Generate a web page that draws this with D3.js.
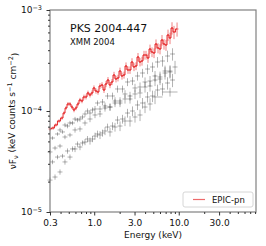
<!DOCTYPE html>
<html>
<head>
<meta charset="utf-8">
<script src="https://cdn.jsdelivr.net/npm/d3@7"></script>
<style>
body { margin: 0; background: #fff; }
text { font-family: "DejaVu Sans", sans-serif; fill: #111; }
</style>
</head>
<body>
<script>
// EPIC-pn spectrum (energy in keV, nuFnu)
var redE = [0.300,0.326,0.352,0.384,0.416,0.440,0.464,0.490,0.517,0.546,0.577,0.609,0.643,0.679,0.717,0.757,0.800,0.844,0.892,0.942,
  0.994,1.050,1.109,1.171,1.237,1.306,1.379,1.456,1.538,1.624,1.715,1.811,1.912,2.019,2.132,2.252,2.378,2.511,2.652,2.800,
  2.957,3.123,3.297,3.482,3.677,3.883,4.100,4.330,4.572,4.828,5.099,5.384,5.686,6.004,6.340,6.695,7.070,7.466,7.884,8.325,
  8.791,9.55];
var redF = [6.64e-5,6.79e-5,7.27e-5,7.96e-5,8.52e-5,9.55e-5,1.071e-4,1.173e-4,1.173e-4,1.095e-4,
  1.023e-4,1.071e-4,1.173e-4,1.285e-4,1.256e-4,1.376e-4,1.376e-4,1.508e-4,1.440e-4,1.508e-4,
  1.690e-4,1.578e-4,1.542e-4,1.768e-4,1.809e-4,1.614e-4,1.851e-4,2.027e-4,1.809e-4,1.937e-4,
  2.272e-4,2.074e-4,2.122e-4,2.489e-4,2.221e-4,2.272e-4,2.789e-4,2.547e-4,2.547e-4,3.055e-4,
  2.727e-4,2.789e-4,3.426e-4,3.055e-4,3.126e-4,3.584e-4,3.584e-4,3.348e-4,4.111e-4,3.838e-4,
  3.752e-4,4.605e-4,4.206e-4,4.111e-4,5.047e-4,4.605e-4,4.501e-4,5.655e-4,5.281e-4,6.636e-4,
  6.056e-4,6.484e-4];
var redErr = [0.04,0.04,0.04,0.04,0.04,0.04,0.04,0.045,0.045,0.045,0.05,0.05,0.05,0.05,0.05,0.055,0.055,0.055,0.055,0.06,
  0.06,0.06,0.06,0.065,0.065,0.065,0.07,0.07,0.07,0.07,0.075,0.075,0.075,0.08,0.08,0.08,0.085,0.085,0.085,0.09,
  0.09,0.09,0.095,0.095,0.10,0.10,0.10,0.105,0.105,0.11,0.11,0.11,0.115,0.115,0.12,0.12,0.125,0.13,0.13,0.14,
  0.15,0.16];

// other observations (grey)
var gridA = [0.300,0.344,0.394,0.451,0.517,0.593,0.679,0.778,0.892,1.022,1.171,1.342,1.538,1.762,2.020,2.314,2.652,3.039,3.483,3.991,4.573,5.241,6.005,6.882,7.886,9.037];
var gridB = [0.321,0.368,0.422,0.483,0.554,0.635,0.727,0.833,0.955,1.094,1.254,1.437,1.646,1.886,2.162,2.477,2.839,3.253,3.729,4.272,4.896,5.611,6.428,7.367,8.442];

var g1F = [5.40e-5,5.92e-5,6.20e-5,7.10e-5,7.61e-5,8.14e-5,8.72e-5,1.00e-4,1.023e-4,1.200e-4,1.228e-4,1.408e-4,1.408e-4,1.652e-4,1.652e-4,1.937e-4,1.982e-4,2.221e-4,2.378e-4,2.604e-4,2.727e-4,3.055e-4,3.126e-4,3.503e-4,3.667e-4];
var g1Err = [0.04,0.04,0.04,0.05,0.05,0.05,0.05,0.06,0.06,0.06,0.07,0.07,0.08,0.08,0.08,0.09,0.09,0.10,0.10,0.11,0.11,0.12,0.12,0.13,0.14];

var g2F = [3.93e-5,4.30e-5,4.50e-5,5.53e-5,5.79e-5,6.49e-5,6.64e-5,7.61e-5,8.33e-5,9.13e-5,9.34e-5,1.071e-4,1.095e-4,1.256e-4,1.256e-4,1.474e-4,1.408e-4,1.690e-4,1.728e-4,1.937e-4,1.982e-4,2.221e-4,2.171e-4,2.489e-4,2.489e-4,2.727e-4];
var g2Err = [0.05,0.05,0.05,0.05,0.05,0.06,0.06,0.06,0.07,0.07,0.07,0.08,0.08,0.09,0.09,0.09,0.10,0.10,0.11,0.11,0.12,0.12,0.13,0.13,0.14,0.15];

var g3F = [3.13e-5,3.50e-5,3.58e-5,4.02e-5,4.21e-5,4.71e-5,4.82e-5,5.28e-5,5.28e-5,5.92e-5,6.06e-5,6.94e-5,7.10e-5,8.14e-5,8.33e-5,9.55e-5,1.00e-4,1.147e-4,1.200e-4,1.376e-4,1.408e-4,1.614e-4,1.652e-4,1.893e-4,2.027e-4];
var g3Err = [0.05,0.05,0.05,0.06,0.06,0.06,0.06,0.07,0.07,0.08,0.08,0.08,0.09,0.09,0.10,0.10,0.11,0.11,0.12,0.12,0.13,0.13,0.14,0.14,0.15];

var g4E = [0.300,0.344,0.394,0.451,0.517,0.593,0.679,0.778,0.892,1.022,1.171,1.342,1.538,1.762,2.020,2.314,2.652,3.039,3.483,3.991,4.573,5.241,7.886];
var g4F = [2.07e-5,2.22e-5,2.49e-5,3.13e-5,3.50e-5,4.21e-5,4.40e-5,4.93e-5,5.05e-5,5.65e-5,5.79e-5,6.34e-5,6.20e-5,6.94e-5,7.10e-5,7.96e-5,7.96e-5,8.72e-5,9.13e-5,1.095e-4,1.173e-4,1.376e-4,1.542e-4];
var g4Err = [0.06,0.06,0.06,0.06,0.06,0.07,0.07,0.07,0.08,0.08,0.09,0.09,0.10,0.10,0.11,0.11,0.12,0.12,0.13,0.13,0.14,0.15,0.10];

var g5E = [0.394,0.451,0.517,0.593,0.679,0.778,0.892,1.022,1.171,1.342,1.538,1.762,2.020,2.314,2.652,3.039,3.483,3.991,4.573,5.241,6.005,6.882,7.886];
var g5F = [6.49e-5,7.27e-5,7.61e-5,8.33e-5,8.33e-5,9.34e-5,9.55e-5,1.047e-4,1.047e-4,1.121e-4,1.095e-4,1.200e-4,1.200e-4,1.315e-4,1.315e-4,1.474e-4,1.508e-4,1.728e-4,1.768e-4,2.027e-4,2.074e-4,2.378e-4,2.433e-4];
var g5Err = [0.05,0.05,0.05,0.05,0.06,0.06,0.06,0.07,0.07,0.08,0.08,0.09,0.09,0.10,0.10,0.11,0.11,0.12,0.12,0.13,0.13,0.14,0.14];

var xTicks = [0.3, 1, 3, 10, 30];
var yTicks = [1e-5, 1e-4, 1e-3];
var yExp = ["\u22125", "\u22124", "\u22123"];

var w = 266, h = 246;

var svg = d3.select("body").append("svg")
  .attr("width", w)
  .attr("height", h);

var x = d3.scaleLog().domain([0.3, 82]).range([50, 256]);
var y = d3.scaleLog().domain([1e-5, 1e-3]).range([212, 10]);

var plot = svg.append("g");

// crosses: horizontal bin bar + vertical error bar
function crossPath(E, F, err) {
  var n = E.length, d = "";
  for (var i = 0; i < n; i++) {
    var lo = i > 0 ? Math.sqrt(E[i-1] * E[i]) : null;
    var hi = i < n - 1 ? Math.sqrt(E[i] * E[i+1]) : null;
    if (lo === null) lo = E[i] * E[i] / hi;
    if (hi === null) hi = E[i] * E[i] / lo;
    d += "M" + x(lo) + "," + y(F[i]) + "H" + x(hi);
    d += "M" + x(E[i]) + "," + y(F[i] * (1 + err[i])) + "V" + y(F[i] * (1 - err[i]));
  }
  return d;
}

var greys = [
  [gridB, g1F, g1Err],
  [gridA, g2F, g2Err],
  [gridB, g3F, g3Err],
  [g4E, g4F, g4Err],
  [g5E, g5F, g5Err]
];

plot.selectAll("path.grey")
  .data(greys)
  .enter()
  .append("path")
  .attr("class", "grey")
  .attr("d", function(d) { return crossPath(d[0], d[1], d[2]); })
  .attr("fill", "none")
  .attr("stroke", "#000")
  .attr("stroke-opacity", 0.3)
  .attr("stroke-width", 1);

// red spectrum
plot.append("path")
  .attr("d", crossPath(redE, redF, redErr))
  .attr("fill", "none")
  .attr("stroke", "#e31a1c")
  .attr("stroke-opacity", 0.55)
  .attr("stroke-width", 1);

var step = d3.line()
  .x(function(d, i) { return x(redE[i]); })
  .y(function(d) { return y(d); })
  .curve(d3.curveStep);

plot.append("path")
  .attr("d", step(redF))
  .attr("fill", "none")
  .attr("stroke", "#e31a1c")
  .attr("stroke-opacity", 0.9)
  .attr("stroke-width", 1);

// frame
svg.append("rect")
  .attr("x", 50).attr("y", 10)
  .attr("width", 206).attr("height", 202)
  .attr("fill", "none")
  .attr("stroke", "#808080")
  .attr("stroke-width", 1.2);

// x axis
var minorX = [0.4,0.5,0.6,0.7,0.8,0.9,2,4,5,6,7,8,9,20,40,50,60,70,80];
var gx = svg.append("g").attr("transform", "translate(0,212)");
gx.call(d3.axisBottom(x).tickValues(xTicks).tickFormat(d3.format(".1f")).tickSize(3.5).tickSizeOuter(0).tickPadding(4));
gx.append("g").call(d3.axisBottom(x).tickValues(minorX).tickFormat("").tickSize(2).tickSizeOuter(0));
gx.selectAll(".domain").remove();
gx.selectAll("line").attr("stroke", "#333");
gx.selectAll("text").attr("font-size", "9px").attr("font-family", "DejaVu Sans").attr("fill", "#111");

// y axis
var minorY = [2e-5,3e-5,4e-5,5e-5,6e-5,7e-5,8e-5,9e-5,2e-4,3e-4,4e-4,5e-4,6e-4,7e-4,8e-4,9e-4];
var gy = svg.append("g").attr("transform", "translate(50,0)");
gy.call(d3.axisLeft(y).tickValues(yTicks).tickFormat("").tickSize(3.5).tickSizeOuter(0).tickPadding(5));
gy.append("g").call(d3.axisLeft(y).tickValues(minorY).tickFormat("").tickSize(2).tickSizeOuter(0));
gy.selectAll(".domain").remove();
gy.selectAll("line").attr("stroke", "#333");

var ylab = gy.selectAll(".ylab")
  .data(yTicks)
  .enter()
  .append("text")
  .attr("class", "ylab")
  .attr("x", -8)
  .attr("y", function(d) { return y(d); })
  .attr("dy", "0.35em")
  .attr("text-anchor", "end")
  .attr("font-size", "9px");
ylab.append("tspan").text("10");
ylab.append("tspan")
  .attr("dy", "-0.5em")
  .attr("font-size", "6.5px")
  .text(function(d, i) { return yExp[i]; });

// axis labels
svg.append("text")
  .attr("x", 153).attr("y", 238)
  .attr("text-anchor", "middle")
  .attr("font-size", "9px")
  .text("Energy (keV)");

var yl = svg.append("text")
  .attr("transform", "translate(16,111) rotate(-90)")
  .attr("text-anchor", "middle")
  .attr("font-size", "9px");
yl.append("tspan").text("\u03bdF");
yl.append("tspan").attr("font-size", "6.5px").attr("dy", "0.3em").text("\u03bd");
yl.append("tspan").attr("dy", "-0.3em").text(" (keV counts s");
yl.append("tspan").attr("font-size", "6.5px").attr("dy", "-0.45em").text("\u22121");
yl.append("tspan").attr("dy", "0.45em").text(" cm");
yl.append("tspan").attr("font-size", "6.5px").attr("dy", "-0.45em").text("\u22122");
yl.append("tspan").attr("dy", "0.45em").text(")");

// titles
svg.append("text")
  .attr("x", 70).attr("y", 32)
  .attr("font-size", "11px")
  .text("PKS 2004-447");
svg.append("text")
  .attr("x", 70).attr("y", 45)
  .attr("font-size", "8.5px")
  .text("XMM 2004");

// legend
var leg = svg.append("g");
leg.append("rect")
  .attr("x", 183).attr("y", 192)
  .attr("width", 70).attr("height", 15)
  .attr("rx", 2)
  .attr("fill", "#fff")
  .attr("stroke", "#ccc")
  .attr("stroke-width", 0.8);
leg.append("line")
  .attr("x1", 193).attr("x2", 205)
  .attr("y1", 199.5).attr("y2", 199.5)
  .attr("stroke", "#e31a1c")
  .attr("stroke-opacity", 0.65)
  .attr("stroke-width", 1.2);
leg.append("text")
  .attr("x", 212).attr("y", 202.5)
  .attr("font-size", "8.5px")
  .text("EPIC-pn");
</script>
</body>
</html>
